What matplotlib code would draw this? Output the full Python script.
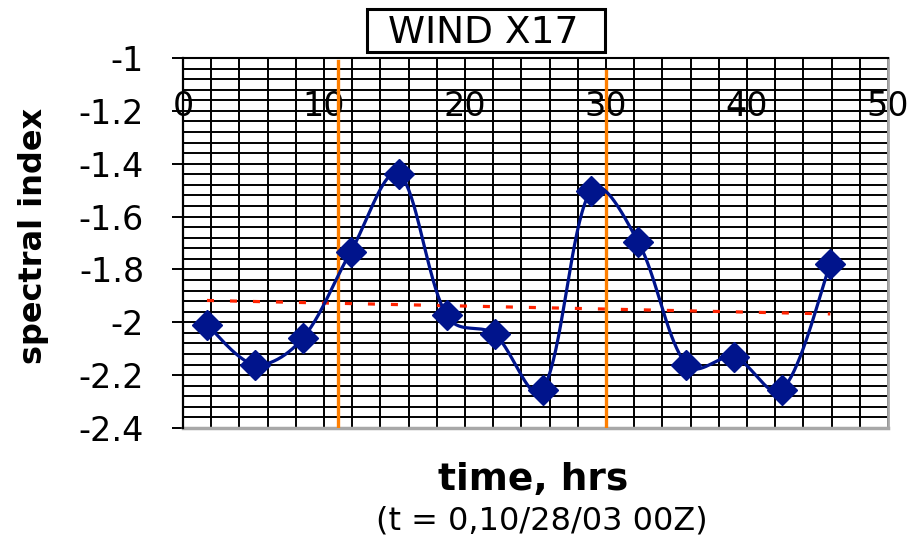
# plot.py
# spectral index vs time, WIND X17

import numpy as np
import matplotlib.pyplot as plt
from matplotlib.patches import Rectangle
from matplotlib.ticker import MultipleLocator, FormatStrFormatter

plt.rcParams['axes.unicode_minus'] = False

# data
hours = [1.7, 5.1, 8.5, 11.9, 15.3, 18.7, 22.1, 25.5, 28.9, 32.3, 35.7, 39.1, 42.5, 45.9]
spec_index = [-2.009, -2.160, -2.060, -1.733, -1.438, -1.974, -2.045,
              -2.255, -1.504, -1.698, -2.160, -2.132, -2.255, -1.778]
event_hours = [11, 30]
event_top = [-1.01, -1.05]

blue = '#00148c'
orange = '#ff7f00'


def smooth(x, y, sx, sy, n=40):
    # bezier smoothing, tangents partly scaled by segment length (excel-ish),
    # worked out in screen units so the shape matches the plot
    p = np.column_stack([np.asarray(x, float) * sx, np.asarray(y, float) * sy])
    k = len(p)
    d = np.hypot(*np.diff(p, axis=0).T)
    tang = np.zeros_like(p)
    tang[0] = p[1] - p[0]
    tang[-1] = p[-1] - p[-2]
    for i in range(1, k - 1):
        tang[i] = p[i + 1] - p[i - 1]
    t = np.linspace(0, 1, n)[:, None]
    out = []
    for i in range(k - 1):
        f0 = 0.5 if i == 0 else d[i] / (d[i - 1] + d[i])
        f1 = 0.5 if i == k - 2 else d[i] / (d[i] + d[i + 1])
        f0 = (f0 + 0.5) / 2
        f1 = (f1 + 0.5) / 2
        c1 = p[i] + tang[i] * f0 / 3
        c2 = p[i + 1] - tang[i + 1] * f1 / 3
        seg = ((1 - t)**3 * p[i] + 3 * (1 - t)**2 * t * c1
               + 3 * (1 - t) * t**2 * c2 + t**3 * p[i + 1])
        out.append(seg)
    out = np.vstack(out)
    return out[:, 0] / sx, out[:, 1] / sy


fig = plt.figure(figsize=(9.14, 5.38), dpi=100)
ax = fig.add_axes([0.2002, 0.2045, 0.7714, 0.6877])

ax.set_xlim(0, 50)
ax.set_ylim(-2.4, -1)

# grid
ax.xaxis.set_major_locator(MultipleLocator(10))
ax.xaxis.set_minor_locator(MultipleLocator(2))
ax.yaxis.set_major_locator(MultipleLocator(0.2))
ax.yaxis.set_minor_locator(MultipleLocator(0.04))
ax.grid(which='both', color='black', linewidth=1.4)
ax.set_axisbelow(True)

# x axis crosses at y = -1 (top of the plot)
ax.spines['bottom'].set_position(('data', -1))
ax.spines['bottom'].set_color('black')
ax.spines['bottom'].set_linewidth(1.5)
ax.spines['top'].set_visible(False)
ax.spines['left'].set_linewidth(1.6)
ax.spines['right'].set_color('#a8a8a8')
ax.spines['right'].set_linewidth(2)
# gray border at bottom of plot area
ax.axhline(-2.4, color='#a8a8a8', linewidth=2.5, clip_on=False, zorder=1)

ax.yaxis.set_major_formatter(FormatStrFormatter('%g'))
ax.tick_params(axis='x', which='both', length=0, labelsize=24, pad=23)
ax.tick_params(axis='y', which='major', length=8, width=1.4, labelsize=24, pad=20)
ax.tick_params(axis='y', which='minor', length=0)

# event lines
for h, top in zip(event_hours, event_top):
    ax.plot([h, h], [top, -2.4], color=orange, linewidth=2.4, zorder=3)

# linear trendline
fit = np.polyfit(hours, spec_index, 1)
tx = np.array([hours[0], hours[-1]])
ax.plot(tx, np.polyval(fit, tx), color='#ff2200', linewidth=2.3,
        dashes=(2.2, 5.0), zorder=3)

# smoothed data line
cx, cy = smooth(hours, spec_index, 705 / 50, 370 / 1.4)
ax.plot(cx, cy, color=blue, linewidth=2.3, zorder=4)
ax.plot(hours, spec_index, linestyle='none', marker='D', markersize=15,
        color=blue, zorder=5)

ax.set_ylabel('spectral index', fontsize=23, fontweight='bold')
ax.yaxis.set_label_coords(-0.19, 0.52)

# title in a box
fig.add_artist(Rectangle((367 / 914, 1 - 52 / 538), 238 / 914, 43 / 538,
                         transform=fig.transFigure, facecolor='white',
                         edgecolor='black', linewidth=2.2))
fig.text(0.529, 0.920, 'WIND X17', fontsize=27, ha='center', va='baseline')

fig.text(0.5837, 0.089, 'time, hrs', fontsize=27, fontweight='bold',
         ha='center', va='baseline')
fig.text(0.5925, 0.016, '(t = 0,10/28/03 00Z)', fontsize=23,
         ha='center', va='baseline')

fig.savefig('out.png', dpi=100)
